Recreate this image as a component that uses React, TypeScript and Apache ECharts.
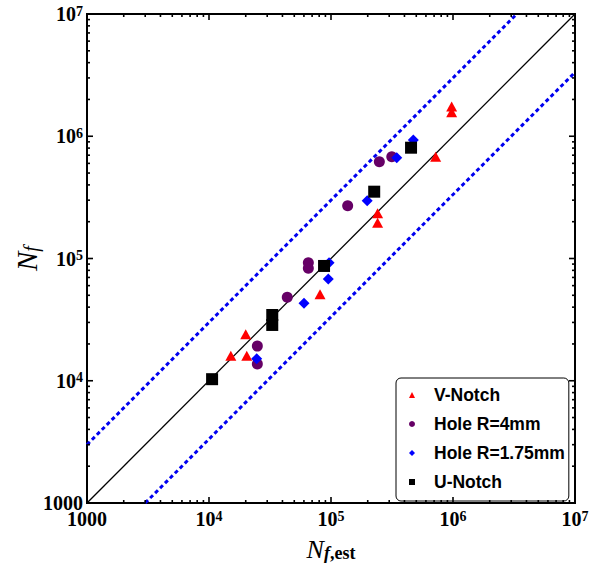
import React, { useEffect, useRef } from "react";
import * as echarts from "echarts";

// ---- data (N_f,est , N_f) ----
const vNotch: [number, number][] = [
  [20000, 24000],
  [15100, 16000],
  [20400, 16000],
  [81300, 50900],
  [975000, 1750000],
  [975000, 1570000],
  [721000, 681000],
  [241000, 234000],
  [241000, 196000],
];
const hole4: [number, number][] = [
  [24900, 19200],
  [24900, 13700],
  [43800, 48200],
  [65200, 92400],
  [65200, 83200],
  [137000, 270000],
  [249000, 619000],
  [315000, 681000],
];
const hole175: [number, number][] = [
  [24600, 15100],
  [60100, 43000],
  [95000, 67900],
  [96400, 92400],
  [473000, 932000],
  [346000, 668000],
  [198000, 297000],
];
const uNotch: [number, number][] = [
  [10600, 10300],
  [33000, 34500],
  [33000, 28600],
  [87700, 86900],
  [226000, 352000],
  [453000, 806000],
];
const seriesNames = ["V-Notch", "Hole R=4mm", "Hole R=1.75mm", "U-Notch"];

const axisMin = 1000;
const axisMax = 10000000;
const bandFactor = 3;
const decades = [1000, 10000, 100000, 1000000];
const minorMultipliers = [2, 3, 4, 5, 6, 7, 8, 9];
const majorTicks = [1000, 10000, 100000, 1000000, 10000000];

const minorTicks: number[] = [];
decades.forEach((d) => minorMultipliers.forEach((m) => minorTicks.push(d * m)));

const serif = "'Liberation Serif', 'Times New Roman', serif";
const sans = "'Liberation Sans', Arial, sans-serif";

function tickLabel(v: number): string {
  if (Math.abs(v - 1000) < 1) return "{b|1000}";
  const e = Math.round(Math.log10(v));
  return "{b|10}{s|" + e + "}";
}

const labelRich = {
  b: { fontFamily: serif, fontWeight: "bold", fontSize: 20, lineHeight: 20, color: "#000" },
  s: { fontFamily: serif, fontWeight: "bold", fontSize: 14, lineHeight: 8, verticalAlign: "top", color: "#000" },
};

export default function App() {
  const ref = useRef<HTMLDivElement>(null);
  useEffect(() => {
    if (!ref.current) return;
    const chart = echarts.init(ref.current, null, { renderer: "svg" });

    const tickItem = (isX: boolean) => (params: any, api: any) => {
      const v = api.value(isX ? 0 : 1);
      const cs = params.coordSys;
      const major = majorTicks.some((m) => Math.abs(m - v) / m < 1e-6);
      const len = major ? 6 : 3;
      const style = { stroke: "#000", lineWidth: 1.6 };
      if (isX) {
        const p = api.coord([v, axisMin]);
        return {
          type: "group",
          children: [
            { type: "line", shape: { x1: p[0], y1: cs.y + cs.height, x2: p[0], y2: cs.y + cs.height - len }, style },
            { type: "line", shape: { x1: p[0], y1: cs.y, x2: p[0], y2: cs.y + len }, style },
          ],
        };
      }
      const p = api.coord([axisMin, v]);
      return {
        type: "group",
        children: [
          { type: "line", shape: { x1: cs.x, y1: p[1], x2: cs.x + len, y2: p[1] }, style },
          { type: "line", shape: { x1: cs.x + cs.width, y1: p[1], x2: cs.x + cs.width - len, y2: p[1] }, style },
        ],
      };
    };

    const allTicks = majorTicks.concat(minorTicks);

    chart.setOption({
      animation: false,
      backgroundColor: "#fff",
      grid: {
        left: 87,
        right: 14,
        top: 14,
        bottom: 63,
        containLabel: false,
        outerBoundsMode: "none",
        show: true,
        borderColor: "#000",
        borderWidth: 2,
        backgroundColor: "transparent",
      },
      xAxis: {
        type: "log",
        logBase: 10,
        min: axisMin,
        max: axisMax,
        interval: 1,
        axisLine: { show: false },
        axisTick: { show: false },
        splitLine: { show: false },
        axisLabel: { formatter: tickLabel, rich: labelRich, margin: 6 },
        name: "{n|N}{f|f}{e|,est}",
        nameLocation: "middle",
        nameGap: 33,
        nameMoveOverlap: false,
        nameTextStyle: {
          rich: {
            n: { fontFamily: serif, fontStyle: "italic", fontSize: 26, lineHeight: 26, color: "#000" },
            f: { fontFamily: serif, fontStyle: "italic", fontWeight: "bold", fontSize: 18, lineHeight: 8, verticalAlign: "bottom", color: "#000" },
            e: { fontFamily: serif, fontWeight: "bold", fontSize: 18, lineHeight: 8, verticalAlign: "bottom", color: "#000" },
          },
        },
      },
      yAxis: {
        type: "log",
        logBase: 10,
        min: axisMin,
        max: axisMax,
        interval: 1,
        axisLine: { show: false },
        axisTick: { show: false },
        splitLine: { show: false },
        axisLabel: { formatter: tickLabel, rich: labelRich, margin: 4 },
        name: "{n|N}{f|f}",
        nameLocation: "middle",
        nameGap: 46,
        nameMoveOverlap: false,
        nameTextStyle: {
          rich: {
            n: { fontFamily: serif, fontStyle: "italic", fontSize: 29, lineHeight: 28, color: "#000" },
            f: { fontFamily: serif, fontStyle: "italic", fontSize: 20, lineHeight: 8, verticalAlign: "bottom", color: "#000" },
          },
        },
      },
      legend: {
        data: seriesNames,
        orient: "vertical",
        left: 396,
        top: 378,
        padding: [7, 4, 9, 13],
        itemGap: 9,
        itemWidth: 6,
        itemHeight: 6,
        backgroundColor: "#fff",
        borderColor: "#000",
        borderWidth: 1,
        borderRadius: 5,
        textStyle: {
          fontFamily: sans,
          fontWeight: "bold",
          fontSize: 17.5,
          lineHeight: 20,
          color: "#000",
          padding: [0, 0, 0, 14],
        },
      },
      series: [
        {
          type: "line",
          data: [[axisMin, axisMin], [axisMax, axisMax]],
          symbol: "none",
          silent: true,
          lineStyle: { color: "#000", width: 1.3 },
          z: 1,
        },
        {
          type: "line",
          data: [[axisMin, axisMin * bandFactor], [axisMax / bandFactor, axisMax]],
          symbol: "none",
          silent: true,
          lineStyle: { color: "#0000f0", width: 3, type: [4, 3] },
          z: 1,
        },
        {
          type: "line",
          data: [[axisMin * bandFactor, axisMin], [axisMax, axisMax / bandFactor]],
          symbol: "none",
          silent: true,
          lineStyle: { color: "#0000f0", width: 3, type: [4, 3] },
          z: 1,
        },
        {
          name: seriesNames[0],
          type: "scatter",
          data: vNotch,
          symbol: "triangle",
          symbolSize: [11, 10],
          itemStyle: { color: "#ff0000", opacity: 1 },
          z: 3,
        },
        {
          name: seriesNames[1],
          type: "scatter",
          data: hole4,
          symbol: "circle",
          symbolSize: 11,
          itemStyle: { color: "#660066", opacity: 1 },
          z: 3,
        },
        {
          name: seriesNames[2],
          type: "scatter",
          data: hole175,
          symbol: "diamond",
          symbolSize: 11,
          itemStyle: { color: "#0000ff", opacity: 1 },
          z: 3,
        },
        {
          name: seriesNames[3],
          type: "scatter",
          data: uNotch,
          symbol: "rect",
          symbolSize: 12,
          itemStyle: { color: "#000", opacity: 1 },
          z: 3,
        },
        {
          type: "custom",
          silent: true,
          clip: false,
          data: allTicks.map((v) => [v, axisMin]),
          renderItem: tickItem(true),
          z: 5,
        },
        {
          type: "custom",
          silent: true,
          clip: false,
          data: allTicks.map((v) => [axisMin, v]),
          renderItem: tickItem(false),
          z: 5,
        },
      ],
    });
    return () => chart.dispose();
  }, []);
  return (
    <div
      ref={ref}
      style={{ position: "fixed", left: 0, top: 0, width: 589, height: 566 }}
    />
  );
}
